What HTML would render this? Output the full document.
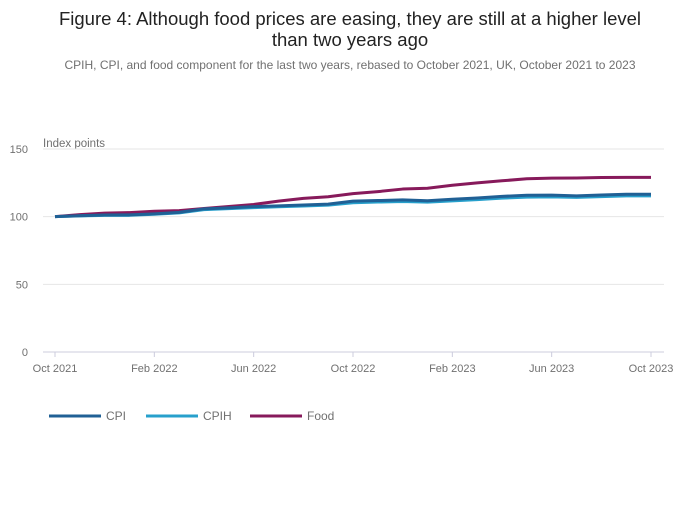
<!DOCTYPE html>
<html><head><meta charset="utf-8"><style>
body{margin:0;background:#fff;width:700px;height:502px;overflow:hidden;font-family:"Liberation Sans",sans-serif}
text{font-family:"Liberation Sans",sans-serif}
</style></head><body>
<svg width="700" height="502">
<text x="350" y="25" text-anchor="middle" font-size="18.5" fill="#222">Figure 4: Although food prices are easing, they are still at a higher level</text>
<text x="350" y="46" text-anchor="middle" font-size="18.5" fill="#222">than two years ago</text>
<text x="350" y="69" text-anchor="middle" font-size="12" fill="#707070">CPIH, CPI, and food component for the last two years, rebased to October 2021, UK, October 2021 to 2023</text>
<text x="43" y="147" font-size="11.5" fill="#707070">Index points</text>
<g id="grid"></g><g id="ticks"></g><g id="lines"></g>
<g>
<line x1="49" y1="416" x2="101" y2="416" stroke="#206095" stroke-width="3"/>
<text x="106" y="420" font-size="12" fill="#707070">CPI</text>
<line x1="146" y1="416" x2="198" y2="416" stroke="#27a0cc" stroke-width="3"/>
<text x="203" y="420" font-size="12" fill="#707070">CPIH</text>
<line x1="250" y1="416" x2="302" y2="416" stroke="#871a5b" stroke-width="3"/>
<text x="307" y="420" font-size="12" fill="#707070">Food</text>
</g>
</svg>
<script>
const xLabels=["Oct 2021","Feb 2022","Jun 2022","Oct 2022","Feb 2023","Jun 2023","Oct 2023"];
const yTicks=[0,50,100,150];
const food=[100,101.5,102.6,103,104,104.5,106,107.5,109,111.5,113.5,114.7,117,118.5,120.4,121,123.2,125,126.5,128,128.5,128.6,128.9,129,129];
const cpi=[100,100.7,101.2,101.3,102.1,103.2,105.8,106.5,107.4,108,108.6,109.3,111.5,111.9,112.4,111.8,112.9,113.8,115,115.8,115.9,115.4,116,116.6,116.6];
const cpih=[100,100.6,101,101,101.8,102.8,105.2,105.9,106.7,107.3,107.9,108.5,110.3,110.8,111.2,110.7,111.7,112.6,113.7,114.4,114.6,114.3,114.8,115.4,115.4];
const NS="http://www.w3.org/2000/svg";
const x=i=>55+i*(596/24), y=v=>352-v*(203/150);
const grid=document.getElementById('grid'),ticks=document.getElementById('ticks'),lines=document.getElementById('lines');
function mk(t,a,p){const e=document.createElementNS(NS,t);for(const k in a)e.setAttribute(k,a[k]);p.appendChild(e);return e;}
yTicks.forEach(v=>{
 const l=mk('line',{x1:43,x2:664,y1:y(v),y2:y(v),stroke:v===0?'#ccd':'#e6e6e6','stroke-width':1},grid);
 
 
 const t=mk('text',{x:28,y:y(v)+4,'text-anchor':'end','font-size':11,fill:'#707070'},ticks);
 t.textContent=v;
 
 
});
xLabels.forEach((s,i)=>{
 const xi=x(i*4);
 const l=mk('line',{x1:xi,x2:xi,y1:352,y2:357,stroke:'#ccd'},ticks);
 
 
 const t=mk('text',{x:xi,y:372,'text-anchor':'middle','font-size':11,fill:'#707070'},ticks);
 t.textContent=s;
 
 
});
[[food,'#871a5b','line-food'],[cpih,'#27a0cc','line-cpih'],[cpi,'#206095','line-cpi']].forEach(([d,c,n])=>{
 const p=mk('polyline',{points:d.map((v,i)=>x(i)+','+y(v)).join(' '),fill:'none',stroke:c,'stroke-width':3,'stroke-linejoin':'round'},lines);
 
 
});
</script>
</body></html>
